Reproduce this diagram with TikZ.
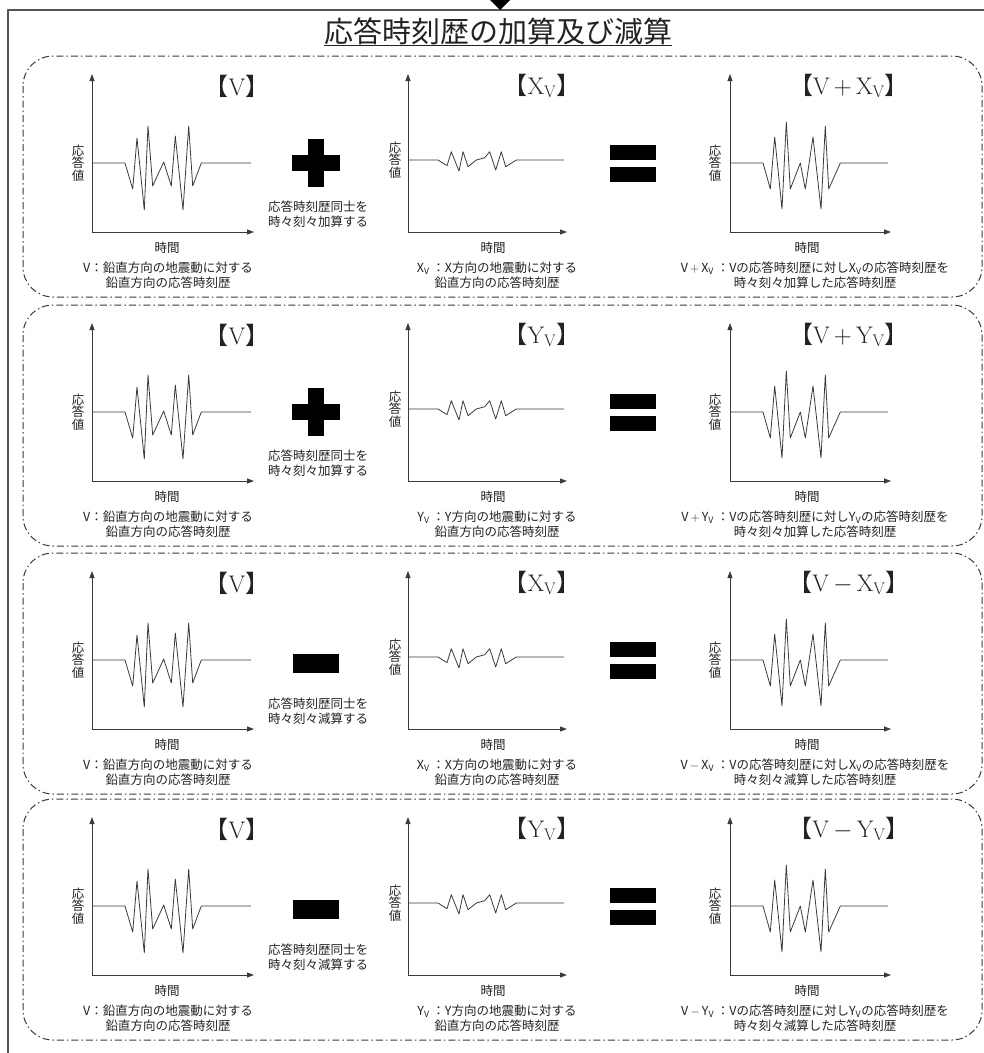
\documentclass[tikz,border=0pt]{standalone}
\usepackage{fontspec}
\newfontfamily\jp{Noto Sans CJK JP}
\usetikzlibrary{positioning, arrows.meta}
\definecolor{frameGrey}{HTML}{555555}
\definecolor{lineGrey}{HTML}{3A3A3A}
\definecolor{textDark}{HTML}{222222}
\newcommand\openbr{{\jp 【}}
\newcommand\closebr{{\jp 】}}

\begin{document}
\begin{tikzpicture}[x=1pt, y=-1pt, line join=round,
    rowbox/.style={draw=lineGrey, line width=1pt, rounded corners=30pt,
                   dash pattern=on 7pt off 3pt on 1.5pt off 3pt},
    axis/.style={draw=lineGrey, line width=0.9pt, -{Triangle[length=7pt, width=5pt]}},
    wave/.style={draw=lineGrey, line width=0.8pt},
    bar/.style={fill=black, inner sep=0pt},
    brlabel/.style={font=\fontsize{24}{26}\selectfont, text=textDark, inner sep=0pt},
    caption/.style={font=\jp\fontsize{12.5}{15}\selectfont, text=textDark, align=center, inner sep=0pt},
    axislab/.style={font=\jp\fontsize{12.5}{12.5}\selectfont, text=textDark, align=center, inner sep=0pt}]
  \useasboundingbox (0,0) rectangle (984,1053);
  % outer frame and arrow from above
  \draw[frameGrey, line width=1.6pt] (8,1053) -- (8,10) -- (984,10);
  \fill[black] (489,-1) -- (511,-1) -- (500,10) -- cycle;
  \node[font=\jp\fontsize{29}{32}\selectfont, text=textDark, inner sep=0pt] (title) at (498,31)
    {応答時刻歴の加算及び減算};
  \draw[textDark, line width=1.2pt] ([yshift=-1pt]title.south west) -- ([yshift=-1pt]title.south east);

  \foreach \T/\L/\s/\op/\pl [count=\i] in {56/X/+/加/1, 305/Y/+/加/1, 553/X/-/減/0, 799/Y/-/減/0}{
    \draw[rowbox] (23,\T) rectangle (982,\T+241);
    % left : V
    \coordinate (oa\i) at (92,\T+176);
    \draw[axis] (oa\i) -- ++(0,-158);
    \draw[axis] (oa\i) -- ++(162,0);
    \draw[wave, shift={(125,\T+107)}] (-33,0) -- (0,0) -- (7.7,26) -- (12,-25) -- (19.3,47) -- (23,-37)
      -- (27.7,23) -- (38.7,-1) -- (46.3,23) -- (50.3,-27) -- (58,47) -- (63.7,-37) -- (67.7,23)
      -- (76.3,0) -- (126,0);
    \node[brlabel] (la\i) at (237,\T+30) {\openbr V\closebr};
    \node[axislab] (ya\i) at (78,\T+107) {応\\答\\値};
    \node[caption] (ta\i) at (167,\T+192) {時間};
    \node[caption] (da\i) at (168,\T+219) {V：鉛直方向の地震動に対する\\鉛直方向の応答時刻歴};
    % operator
    \ifnum\pl=1
      \node[bar, minimum width=48pt, minimum height=16pt] (op\i) at (316,\T+107) {};
      \node[bar, minimum width=16pt, minimum height=48pt] at (op\i) {};
    \else
      \node[bar, minimum width=46pt, minimum height=19pt] (op\i) at (316,\T+110) {};
    \fi
    \node[caption] (oc\i) at (318,\T+158) {応答時刻歴同士を\\時々刻々\op 算する};
    % middle : X_V or Y_V
    \coordinate (ob\i) at (408,\T+176);
    \draw[axis] (ob\i) -- ++(0,-158);
    \draw[axis] (ob\i) -- ++(159,0);
    \draw[wave, shift={(438,\T+104)}] (-30,0) -- (0,0) -- (9,5.7) -- (13.3,-8.3) -- (21,11) -- (25,-8.3)
      -- (30,6.7) -- (38.3,0) -- (46.7,-2.3) -- (51.7,-8.3) -- (57.7,10) -- (63.3,-8.3) -- (67.7,6.7)
      -- (78.3,0) -- (126,0);
    \node[brlabel] (lb\i) at (542,\T+30) {\openbr\L\textsubscript{V}\closebr};
    \node[axislab] (yb\i) at (395,\T+104) {応\\答\\値};
    \node[caption] (tb\i) at (493,\T+192) {時間};
    \node[caption] (db\i) at (497,\T+219) {\L\textsubscript{V} ：\L 方向の地震動に対する\\鉛直方向の応答時刻歴};
    % equals
    \node[bar, minimum width=46pt, minimum height=15pt] (eqa\i) at (633,\T+96) {};
    \node[bar, minimum width=46pt, minimum height=15pt] (eqb\i) at (633,\T+118) {};
    % right : result
    \coordinate (oc\i) at (730,\T+176);
    \draw[axis] (oc\i) -- ++(0,-158);
    \draw[axis] (oc\i) -- ++(161,0);
    \draw[wave, shift={(763,\T+107)}] (-33,0) -- (0,0) -- (7.3,26) -- (11.7,-26) -- (19,46) -- (23.3,-41)
      -- (27.3,26) -- (37.3,0) -- (42.3,26) -- (50,-26) -- (58,46) -- (62.3,-37) -- (65.7,26)
      -- (77.3,0) -- (125,0);
    \node[brlabel] (lc\i) at (849,\T+30) {\openbr V$\,\s\,$\L\textsubscript{V}\closebr};
    \node[axislab] (yc\i) at (715,\T+107) {応\\答\\値};
    \node[caption] (tc\i) at (807,\T+192) {時間};
    \node[caption] (dc\i) at (815,\T+219)
      {V\,$\s$\,\L\textsubscript{V} ：Vの応答時刻歴に対し\L\textsubscript{V}の応答時刻歴を\\時々刻々\op 算した応答時刻歴};
  }
\end{tikzpicture}
\end{document}
